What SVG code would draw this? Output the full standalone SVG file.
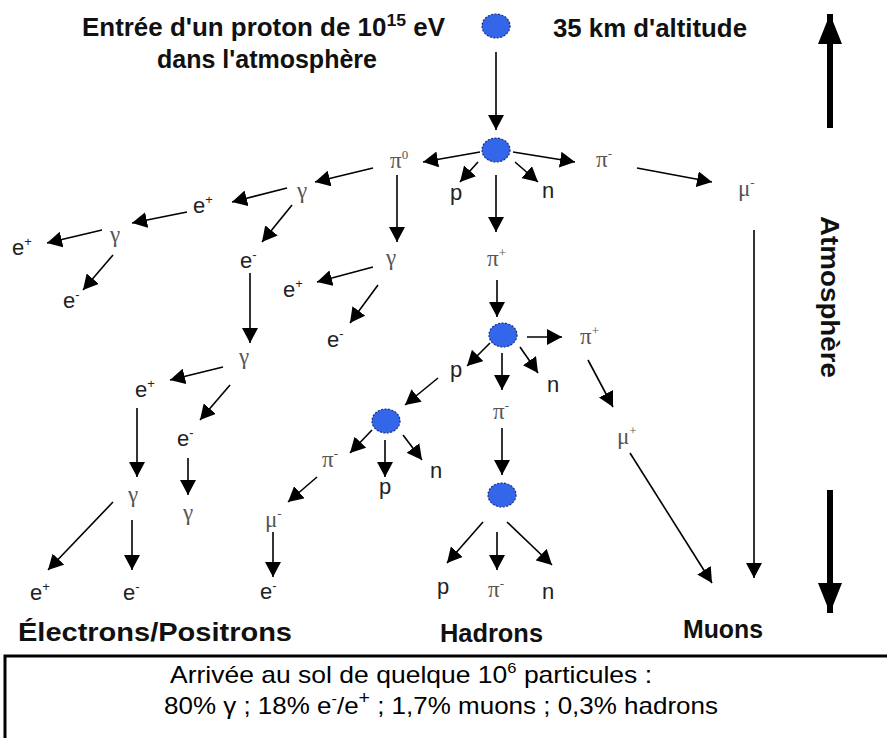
<svg xmlns="http://www.w3.org/2000/svg" width="887" height="738" viewBox="0 0 887 738">
<defs>
<style>
.t{font-family:"Liberation Sans",Arial,sans-serif;font-size:22px;fill:#222}
.g{font-family:"Liberation Serif","Times New Roman",serif;font-size:23px;fill:#555}
.h{font-family:"Liberation Sans",Arial,sans-serif;font-weight:bold;font-size:25px;fill:#111}
.b{font-family:"Liberation Sans",Arial,sans-serif;font-size:24px;fill:#000}
.s{font-size:13px}
.c line{stroke:#000;stroke-width:1.6;marker-end:url(#ah)}
.c line.big{stroke-width:6;marker-end:url(#bh)}
.node ellipse{fill:#3366e8;stroke:#1a2a80;stroke-width:1.2;stroke-dasharray:2 1.5}
</style>
<marker id="ah" markerUnits="userSpaceOnUse" markerWidth="16" markerHeight="16" refX="15" refY="8" orient="auto"><path d="M0,0 L15,8 L0,16 z" fill="#000"/></marker>
<marker id="bh" markerUnits="userSpaceOnUse" markerWidth="30" markerHeight="24" refX="30" refY="12" orient="auto"><path d="M0,0 L30,12 L0,24 z" fill="#000"/></marker>
</defs>
<rect width="887" height="738" fill="#fff"/>

<g id="title">
<text class="h" x="82" y="36" textLength="363" lengthAdjust="spacingAndGlyphs">Entrée d'un proton de 10<tspan dy="-10" font-size="17">15</tspan><tspan dy="10"> eV</tspan></text>
<text class="h" x="267" y="68" text-anchor="middle">dans l'atmosphère</text>
<text class="h" x="553" y="37" textLength="194" lengthAdjust="spacingAndGlyphs">35 km d'altitude</text>
</g>

<g id="n0" class="node"><ellipse cx="496" cy="26" rx="14" ry="12"/></g>
<g id="n1" class="node"><ellipse cx="496" cy="150" rx="14" ry="12"/></g>
<g id="n2" class="node"><ellipse cx="503" cy="335" rx="14" ry="12"/></g>
<g id="n3" class="node"><ellipse cx="386" cy="421" rx="14" ry="12"/></g>
<g id="n4" class="node"><ellipse cx="502" cy="495" rx="14" ry="12"/></g>

<g id="connectors" class="c">
<line x1="496" y1="52" x2="496" y2="130"/>
<line x1="480" y1="152" x2="423" y2="162"/>
<line x1="478" y1="162" x2="460" y2="182"/>
<line x1="496" y1="175" x2="496" y2="232"/>
<line x1="515" y1="162" x2="538" y2="182"/>
<line x1="513" y1="152" x2="575" y2="162"/>
<line x1="637" y1="168" x2="712" y2="182"/>
<line x1="754" y1="230" x2="754" y2="578"/>
<line x1="373" y1="168" x2="315" y2="182"/>
<line x1="397" y1="175" x2="397" y2="242"/>
<line x1="287" y1="188" x2="232" y2="202"/>
<line x1="292" y1="205" x2="262" y2="242"/>
<line x1="187" y1="212" x2="132" y2="223"/>
<line x1="102" y1="230" x2="47" y2="243"/>
<line x1="113" y1="255" x2="83" y2="290"/>
<line x1="373" y1="267" x2="317" y2="282"/>
<line x1="378" y1="285" x2="350" y2="323"/>
<line x1="250" y1="273" x2="250" y2="343"/>
<line x1="223" y1="367" x2="170" y2="380"/>
<line x1="230" y1="385" x2="200" y2="420"/>
<line x1="137" y1="408" x2="137" y2="477"/>
<line x1="188" y1="458" x2="188" y2="495"/>
<line x1="113" y1="502" x2="48" y2="570"/>
<line x1="132" y1="520" x2="132" y2="570"/>
<line x1="497" y1="280" x2="497" y2="317"/>
<line x1="527" y1="337" x2="562" y2="337"/>
<line x1="490" y1="343" x2="467" y2="366"/>
<line x1="502" y1="353" x2="502" y2="390"/>
<line x1="520" y1="347" x2="538" y2="373"/>
<line x1="438" y1="378" x2="405" y2="405"/>
<line x1="588" y1="360" x2="613" y2="407"/>
<line x1="630" y1="453" x2="712" y2="583"/>
<line x1="502" y1="428" x2="502" y2="475"/>
<line x1="483" y1="522" x2="447" y2="563"/>
<line x1="497" y1="532" x2="497" y2="570"/>
<line x1="507" y1="522" x2="552" y2="565"/>
<line x1="372" y1="430" x2="350" y2="453"/>
<line x1="385" y1="440" x2="385" y2="477"/>
<line x1="403" y1="435" x2="422" y2="460"/>
<line x1="317" y1="477" x2="288" y2="502"/>
<line x1="273" y1="532" x2="273" y2="577"/>
<line class="big" x1="830" y1="128" x2="830" y2="14"/>
<line class="big" x1="830" y1="490" x2="830" y2="613"/>
</g>

<g id="lbl-pi0"><text class="g" x="390" y="168">π<tspan class="s" dy="-9">0</tspan></text></g>
<g id="lbl-gam-a"><text class="g" x="297" y="198">γ</text></g>
<g id="lbl-gam-b"><text class="g" x="386" y="265">γ</text></g>
<g id="lbl-ep-a"><text class="t" x="193" y="213">e<tspan class="s" dy="-9">+</tspan></text></g>
<g id="lbl-em-a"><text class="t" x="240" y="268">e<tspan class="s" dy="-9">-</tspan></text></g>
<g id="lbl-gam-c"><text class="g" x="110" y="242">γ</text></g>
<g id="lbl-ep-b"><text class="t" x="12" y="255">e<tspan class="s" dy="-9">+</tspan></text></g>
<g id="lbl-em-b"><text class="t" x="63" y="308">e<tspan class="s" dy="-9">-</tspan></text></g>
<g id="lbl-ep-c"><text class="t" x="283" y="297">e<tspan class="s" dy="-9">+</tspan></text></g>
<g id="lbl-em-c"><text class="t" x="327" y="347">e<tspan class="s" dy="-9">-</tspan></text></g>
<g id="lbl-gam-d"><text class="g" x="239" y="364">γ</text></g>
<g id="lbl-ep-d"><text class="t" x="135" y="397">e<tspan class="s" dy="-9">+</tspan></text></g>
<g id="lbl-em-d"><text class="t" x="177" y="446">e<tspan class="s" dy="-9">-</tspan></text></g>
<g id="lbl-gam-e"><text class="g" x="128" y="502">γ</text></g>
<g id="lbl-gam-f"><text class="g" x="183" y="520">γ</text></g>
<g id="lbl-ep-e"><text class="t" x="30" y="600">e<tspan class="s" dy="-9">+</tspan></text></g>
<g id="lbl-em-e"><text class="t" x="123" y="600">e<tspan class="s" dy="-9">-</tspan></text></g>
<g id="lbl-p1"><text class="t" x="450" y="200">p</text></g>
<g id="lbl-n1"><text class="t" x="542" y="198">n</text></g>
<g id="lbl-pim1"><text class="g" x="596" y="167">π<tspan class="s" dy="-9">-</tspan></text></g>
<g id="lbl-mum1"><text class="g" x="738" y="196">μ<tspan class="s" dy="-9">-</tspan></text></g>
<g id="lbl-pip1"><text class="g" x="487" y="266">π<tspan class="s" dy="-9">+</tspan></text></g>
<g id="lbl-pip2"><text class="g" x="580" y="344">π<tspan class="s" dy="-9">+</tspan></text></g>
<g id="lbl-p2"><text class="t" x="450" y="377">p</text></g>
<g id="lbl-pim2"><text class="g" x="493" y="419">π<tspan class="s" dy="-9">-</tspan></text></g>
<g id="lbl-n2"><text class="t" x="547" y="392">n</text></g>
<g id="lbl-mup1"><text class="g" x="617" y="444">μ<tspan class="s" dy="-9">+</tspan></text></g>
<g id="lbl-pim3"><text class="g" x="322" y="467">π<tspan class="s" dy="-9">-</tspan></text></g>
<g id="lbl-p3"><text class="t" x="379" y="494">p</text></g>
<g id="lbl-n3"><text class="t" x="430" y="478">n</text></g>
<g id="lbl-mum2"><text class="g" x="265" y="527">μ<tspan class="s" dy="-9">-</tspan></text></g>
<g id="lbl-em-f"><text class="t" x="260" y="599">e<tspan class="s" dy="-9">-</tspan></text></g>
<g id="lbl-p4"><text class="t" x="437" y="594">p</text></g>
<g id="lbl-pim4"><text class="g" x="488" y="597">π<tspan class="s" dy="-9">-</tspan></text></g>
<g id="lbl-n4"><text class="t" x="542" y="599">n</text></g>

<g id="categories">
<text class="h" x="18" y="641" textLength="274" lengthAdjust="spacingAndGlyphs">Électrons/Positrons</text>
<text class="h" x="440" y="642" textLength="103" lengthAdjust="spacingAndGlyphs">Hadrons</text>
<text class="h" x="683" y="638" textLength="80" lengthAdjust="spacingAndGlyphs">Muons</text>
</g>

<g id="atmosphere">
<text class="h" transform="translate(830,297) rotate(90)" text-anchor="middle" dominant-baseline="central" font-size="27" textLength="162" lengthAdjust="spacingAndGlyphs">Atmosphère</text>
</g>

<g id="summary">
<rect x="5" y="656" width="890" height="100" fill="#fff" stroke="#000" stroke-width="3"/>
<text class="b" x="170" y="683" textLength="482" lengthAdjust="spacingAndGlyphs">Arrivée au sol de quelque 10<tspan font-size="15" dy="-10">6</tspan><tspan dy="10"> particules :</tspan></text>
<text class="b" x="164" y="714" textLength="554" lengthAdjust="spacingAndGlyphs">80% γ ; 18% e<tspan font-size="15" dy="-10">-</tspan><tspan dy="10">/e</tspan><tspan font-size="18" dy="-10">+</tspan><tspan dy="10"> ; 1,7% muons ; 0,3% hadrons</tspan></text>
</g>
</svg>
